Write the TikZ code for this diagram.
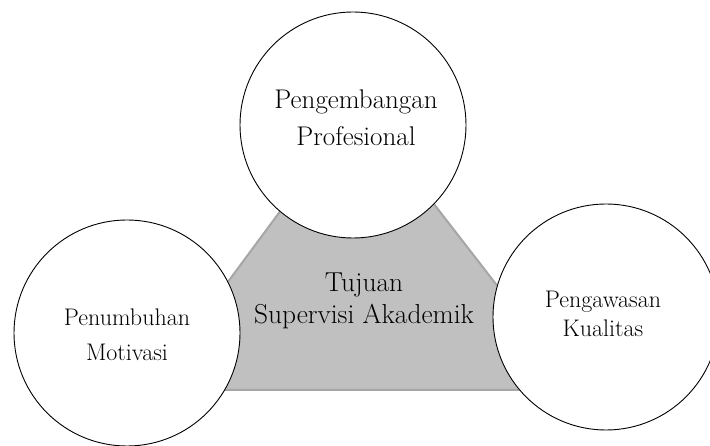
\documentclass[tikz,border=0pt]{standalone}
\definecolor{trifill}{HTML}{C0C0C0}
\definecolor{triedge}{HTML}{A6A6A6}
\begin{document}
\begin{tikzpicture}[x=1pt, y=-1pt,
  bubble/.style={circle, draw, fill=white, line width=0.9pt, minimum size=226pt, inner sep=0pt},
  caption/.style={align=center, inner sep=0pt}]
\useasboundingbox (0,0) rectangle (710,446);
% gray triangle behind the circles
\coordinate (t0) at (358,106);
\coordinate (t1) at (148,390);
\coordinate (t2) at (578,390);
\draw[draw=triedge, fill=trifill, line width=2pt] (t0) -- (t1) -- (t2) -- cycle;
% the three circles
\node[bubble] (prof) at (353,125) {};
\node[bubble] (motiv) at (127,333) {};
\node[bubble] (kual) at (606,317) {};
% their texts
\node[caption, font=\fontsize{27}{37}\selectfont] (proftext) at ([xshift=3pt, yshift=7pt]prof.center) {Pengembangan\\Profesional};
\node[caption, font=\fontsize{24}{35}\selectfont] (motivtext) at ([yshift=-2pt]motiv.center) {Penumbuhan\\Motivasi};
\node[caption, font=\fontsize{24}{29}\selectfont] (kualtext) at ([xshift=-3pt, yshift=3pt]kual.center) {Pengawasan\\Kualitas};
% centre text
\node[caption, font=\fontsize{27.4}{32}\selectfont] (tujuan) at (364,301) {Tujuan\\Supervisi Akademik};
\end{tikzpicture}
\end{document}
